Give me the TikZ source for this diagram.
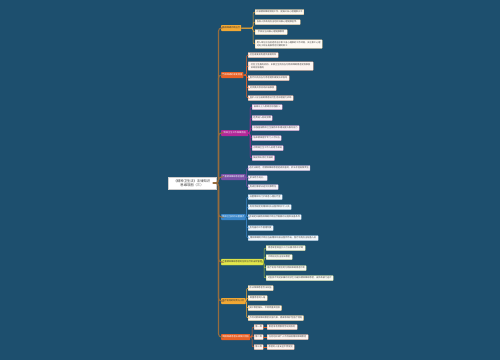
\documentclass[tikz,border=0pt]{standalone}
\usepackage{fontspec}
\newfontfamily\cjk{Noto Sans CJK SC}
\usetikzlibrary{shadows}
\definecolor{bg}{RGB}{29,79,110}
\definecolor{trunkc}{RGB}{150,108,62}
\definecolor{cgold}{RGB}{242,168,52}
\definecolor{corg}{RGB}{232,98,40}
\definecolor{cmag}{RGB}{178,40,152}
\definecolor{cpur}{RGB}{122,80,166}
\definecolor{cblu}{RGB}{58,134,200}
\definecolor{cyel}{RGB}{226,230,76}
\definecolor{cyeld}{RGB}{180,196,58}
\definecolor{txt}{RGB}{70,70,70}
\tikzset{
  x=1pt, y=-1pt,
  every node/.style={font=\cjk\fontsize{2.2}{2.8}\selectfont, inner sep=0pt},
  leaf/.style={draw=#1!55, line width=0.3pt, fill=#1!6, anchor=west,
     minimum height=5, inner xsep=1.2, inner ysep=0.8, text=txt, rounded corners=0.4,
     drop shadow={shadow xshift=0.4pt, shadow yshift=-0.4pt, opacity=0.25}},
  branch/.style={fill=#1, anchor=west, minimum height=6, inner xsep=1.2, text=white, rounded corners=0.6},
  branchd/.style={fill=#1, anchor=west, minimum height=6, inner xsep=1.2, text=black!80, rounded corners=0.6},
  trunk/.style={draw=trunkc, line width=1.1pt, rounded corners=3},
  link/.style={draw=#1, line width=0.5pt, rounded corners=2},
  rootbox/.style={fill=white, draw=black!20, line width=0.3pt, align=center, text=black!80,
     minimum width=48, minimum height=12, font=\cjk\fontsize{3.3}{4.3}\selectfont}
}
\begin{document}
\begin{tikzpicture}
\fill[bg] (0,0) rectangle (500,360);
\useasboundingbox (0,0) rectangle (500,360);

% root
\node[rootbox] (root) at (192,183) {《精神卫生法》法律知识\\思维导图（三）};

% branches
\node[branchd=cgold, minimum width=20] (B1) at (221,28) {精神障碍诊断治疗};
\node[branch=corg, minimum width=22] (B2) at (221,75) {精神障碍的康复措施};
\node[branch=cmag, minimum width=27] (B3) at (221,133) {精神卫生工作保障措施};
\node[branch=cpur, minimum width=24] (B4) at (221,177) {严重精神障碍患者管理};
\node[branch=cblu, minimum width=24] (B5) at (221,217) {精神卫生机构设置要求};
\node[branchd=cyel, draw=cyeld, line width=0.3pt, minimum width=42] (B6) at (221,262) {严重精神障碍患者的住院治疗及出院管理};
\node[branchd=cgold, minimum width=24] (B7) at (221,301) {医疗机构的职责与义务};
\node[branch=corg, minimum width=29] (B8) at (221,337) {精神障碍患者法律保护措施};

\foreach \b in {B1,B2,B3,B4,B5,B6,B7,B8}
  \draw[trunk] (root.east) -| ([xshift=-2.5]\b.west) -- (\b.west);

% B1 leaves
\node[leaf=cgold, minimum width=47] (a1) at (255,12) {开展精神障碍预防工作，提高公众心理健康水平};
\node[leaf=cgold, minimum width=45] (a2) at (255,22) {各级人民政府应当组织开展心理健康宣传。};
\node[leaf=cgold, minimum width=32] (a3) at (255,32) {学校应当开展心理健康教育};
\node[leaf=cgold, minimum width=67, minimum height=8.5, align=left] (a4) at (255,44) {用人单位应当创造有益于职工身心健康的工作环境，关注职工心理\\对处于职业发展特定时期的职工};
\foreach \c in {a1,a2,a3,a4}
  \draw[link=cgold] (B1.east) -| ([xshift=-2]\c.west) -- (\c.west);

% B2 leaves
\node[leaf=corg, minimum width=30] (b1) at (248,55) {社区康复机构提供康复场所};
\node[leaf=corg, minimum width=65, minimum height=8.5, align=left] (b2) at (248,66) {社区卫生服务机构、乡镇卫生院应当为精神障碍患者提供康复\\训练指导服务};
\node[leaf=corg, minimum width=41] (b3) at (248,78) {医疗机构应当为患者提供康复技术指导};
\node[leaf=corg, minimum width=28] (b4) at (248,88) {村民委员会协助开展康复};
\node[leaf=corg, minimum width=45] (b5) at (248,98) {监护人应当协助患者进行生活自理能力训练};
\foreach \c in {b1,b2,b3,b4,b5}
  \draw[link=corg] (B2.east) -| ([xshift=-1.5]\c.west) -- (\c.west);

% B3 leaves
\node[leaf=cmag, minimum width=30] (c1) at (252,107) {县级以上人民政府加强投入};
\node[leaf=cmag, minimum width=18] (c2) at (252,118) {经费纳入财政预算};
\node[leaf=cmag, minimum width=47] (c3) at (252,128) {加强基层精神卫生服务体系建设提升服务能力};
\node[leaf=cmag, minimum width=29] (c4) at (252,138) {培养精神医学专门人才队伍};
\node[leaf=cmag, minimum width=31] (c5) at (252,148) {对精神卫生工作人员给予津贴};
\node[leaf=cmag, minimum width=22] (c6) at (252,158) {鼓励和支持社会捐助};
\foreach \c in {c1,c2,c3,c4,c5,c6}
  \draw[link=cmag] (B3.east) -| ([xshift=-2]\c.west) -- (\c.west);

% B4 leaves
\node[leaf=cpur, minimum width=60] (d1) at (248,168) {违反法规定，给精神障碍患者造成损害的，依法承担赔偿责任};
\node[leaf=cpur, minimum width=19] (d2) at (248,178) {依法给予处分。};
\node[leaf=cpur, minimum width=30] (d3) at (248,187) {构成犯罪依法追究刑事责任};
\foreach \c in {d1,d2,d3}
  \draw[link=cpur] (B4.east) -| ([xshift=-1.5]\c.west) -- (\c.west);

% B5 leaves
\node[leaf=cblu, minimum width=34] (e1) at (248,197) {设置精神科门诊或者心理治疗室};
\node[leaf=cblu, minimum width=43] (e2) at (248,207) {有符合规定的精神科执业医师和护士人员};
\node[leaf=cblu, minimum width=53] (e3) at (248,217) {有满足开展精神障碍诊断治疗需要的设施和设备条件};
\node[leaf=cblu, minimum width=25] (e4) at (248,228) {有完善的工作管理制度};
\node[leaf=cblu, minimum width=70] (e5) at (248,238) {精神障碍的诊断应当由精神科执业医师作出，医疗机构应当配备人员};
\foreach \c in {e1,e2,e3,e4,e5}
  \draw[link=cblu] (B5.east) -| ([xshift=-1.5]\c.west) -- (\c.west);

% B6 leaves
\node[leaf=cyeld, minimum width=39] (f1) at (266,248) {患者或者其监护人可以要求再次诊断};
\node[leaf=cyeld, minimum width=26] (f2) at (266,257) {诊断结论应当告知患者};
\node[leaf=cyeld, minimum width=40] (f3) at (266,268) {医疗机构不得拒绝为精神障碍患者诊断};
\node[leaf=cyeld, minimum width=67] (f4) at (266,278) {对查找不到近亲属的流浪乞讨疑似精神障碍患者，由民政部门送诊};
\foreach \c in {f1,f2,f3,f4}
  \draw[link=cyeld] (B6.east) -| ([xshift=-2]\c.west) -- (\c.west);

% B7 leaves
\node[leaf=cgold, minimum width=25] (g1) at (248,288) {依法保障患者合法权益};
\node[leaf=cgold, minimum width=19] (g2) at (248,298) {尊重患者的人格};
\node[leaf=cgold, minimum width=33] (g3) at (248,308) {保护患者隐私，不得泄露其信息};
\node[leaf=cgold, minimum width=55] (g4) at (248,318) {不得对精神障碍患者实施约束、隔离等保护性医疗措施};
\foreach \c in {g1,g2,g3,g4}
  \draw[link=cgold] (B7.east) -| ([xshift=-1.5]\c.west) -- (\c.west);

% B8 sub-branches
\node[leaf=corg, minimum width=9] (h1) at (254,327) {第一类};
\node[leaf=corg, minimum width=9] (h2) at (254,337) {第二类};
\node[leaf=corg, minimum width=9] (h3) at (254,347) {第三类};
\foreach \c in {h1,h2,h3}
  \draw[link=corg] (B8.east) -| ([xshift=-2]\c.west) -- (\c.west);
\node[leaf=corg, minimum width=30] (i1) at (267,327) {患者享有受教育劳动的权利};
\node[leaf=corg, minimum width=41] (i2) at (267,337) {任何组织或个人不得歧视精神障碍患者};
\node[leaf=corg, minimum width=27] (i3) at (267,347) {患者的人身安全不受侵犯};
\draw[link=corg] (h1.east) -- (i1.west);
\draw[link=corg] (h2.east) -- (i2.west);
\draw[link=corg] (h3.east) -- (i3.west);
\end{tikzpicture}
\end{document}
